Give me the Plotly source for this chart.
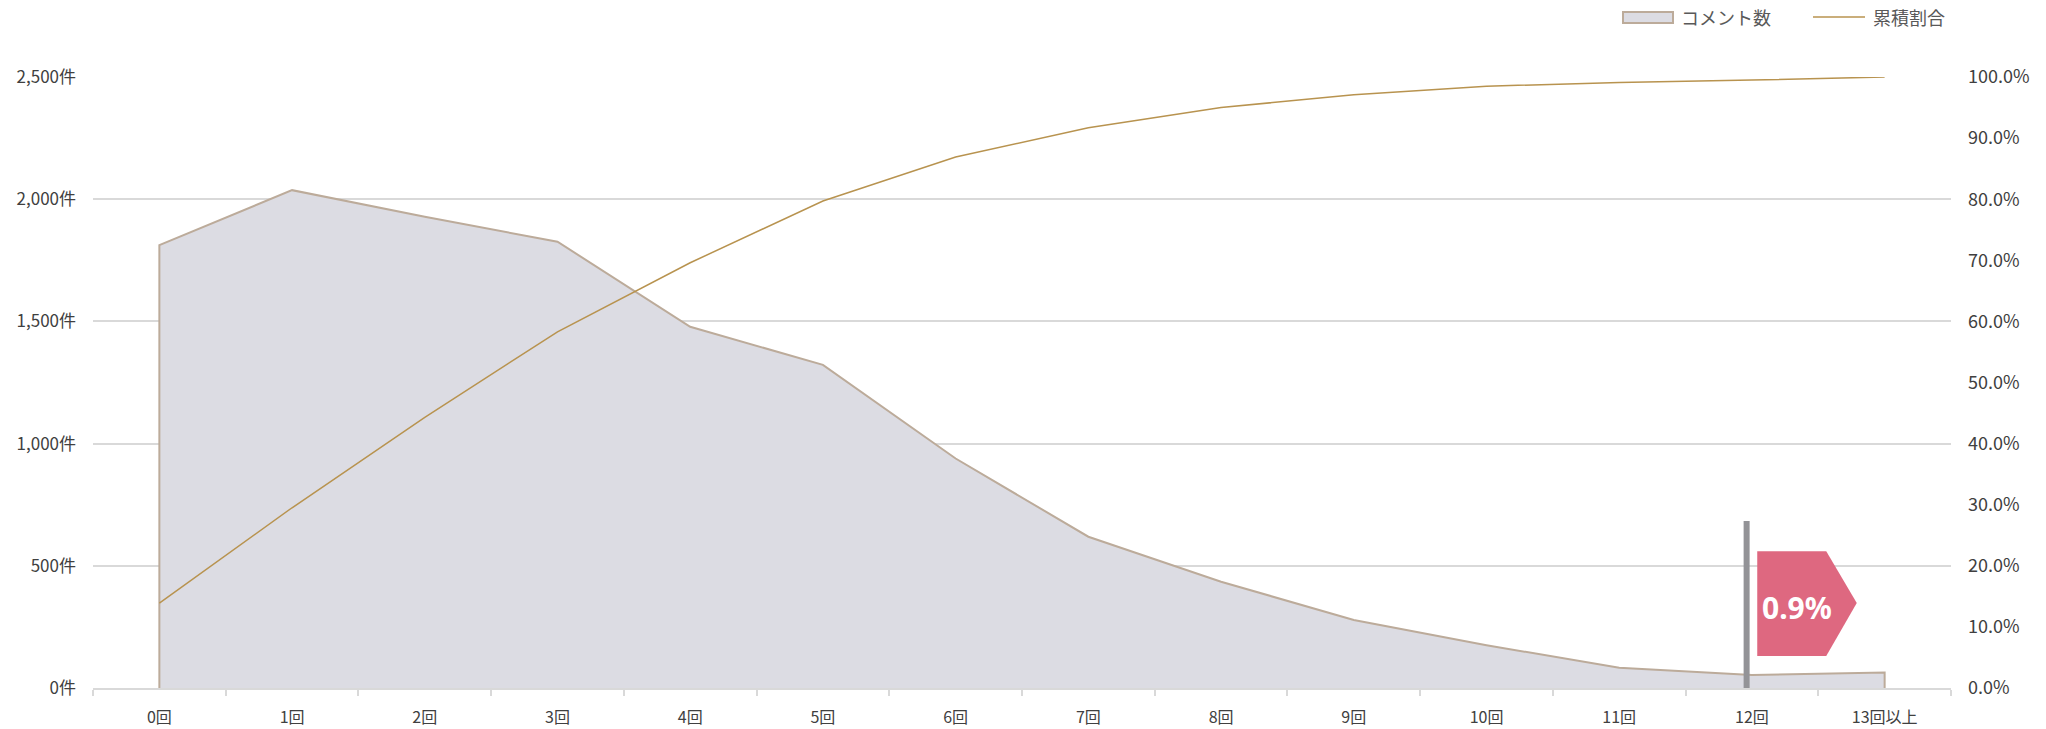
import plotly.graph_objects as go

# Data
categories = ["0回", "1回", "2回", "3回", "4回", "5回", "6回", "7回", "8回", "9回",
              "10回", "11回", "12回", "13回以上"]
comment_counts = [1812, 2037, 1928, 1826, 1478, 1322, 939, 619, 435, 278, 175, 83, 53, 63]
cumulative_share = [0.139, 0.295, 0.443, 0.583, 0.696, 0.797, 0.869, 0.917, 0.950,
                    0.971, 0.985, 0.991, 0.995, 1.000]
left_ticks = [0, 500, 1000, 1500, 2000, 2500]
right_ticks = [0, 0.1, 0.2, 0.3, 0.4, 0.5, 0.6, 0.7, 0.8, 0.9, 1.0]
series_names = ["コメント数", "累積割合"]
highlight_label = "0.9%"
highlight_index = 12

FONT = "Noto Sans CJK JP, Noto Sans, sans-serif"
TEXT = "#404040"
LEGEND_TEXT = "#595959"
GRID = "#d9d9d9"
AREA_FILL = "#dcdce3"
AREA_LINE = "#bcab9a"
CUM_LINE = "#b8934f"
FLAG = "#de6880"
POLE = "#939397"

W, H = 2046, 729
ML, MR, MT, MB = 93, 95, 77, 41
PW, PH = W - ML - MR, H - MT - MB


def px_x(px):
    """Horizontal pixel position -> paper fraction."""
    return (px - ML) / PW


def px_y(py):
    """Vertical pixel position (from top) -> paper fraction."""
    return (H - MB - py) / PH


idx = list(range(len(categories)))

fig = go.Figure()

# Area polygon, closed down to the baseline at both ends
area_x = [idx[0]] + idx + [idx[-1]]
area_y = [0] + comment_counts + [0]
fig.add_trace(go.Scatter(
    x=area_x, y=area_y, name=series_names[0], mode="lines",
    fill="toself", fillcolor=AREA_FILL,
    line=dict(color=AREA_LINE, width=2),
    hoverinfo="skip", showlegend=False,
))

fig.add_trace(go.Scatter(
    x=idx, y=cumulative_share, name=series_names[1], mode="lines",
    line=dict(color=CUM_LINE, width=1.5),
    yaxis="y2", showlegend=False,
))

# Marker pole and pentagon flag
fig.add_shape(type="line", xref="x", yref="y",
              x0=highlight_index - 0.04, x1=highlight_index - 0.04,
              y0=0, y1=683, line=dict(color=POLE, width=6), layer="above")
flag_path = "M {a},{b} L {c},{b} L {d},{m} L {c},{t} L {a},{t} Z".format(
    a=highlight_index + 0.04, c=highlight_index + 0.56, d=highlight_index + 0.79,
    b=131, m=348, t=560)
fig.add_shape(type="path", xref="x", yref="y", path=flag_path,
              fillcolor=FLAG, line=dict(width=0), layer="above")
fig.add_annotation(x=highlight_index + 0.34, y=330, xref="x", yref="y",
                   text="<b>" + highlight_label + "</b>", showarrow=False,
                   font=dict(family="Noto Sans, sans-serif", size=30, color="white"),
                   xanchor="center", yanchor="middle")

# Legend across the top right
fig.add_shape(type="rect", xref="paper", yref="paper",
              x0=px_x(1623), x1=px_x(1673), y0=px_y(23), y1=px_y(12),
              fillcolor=AREA_FILL, line=dict(color=AREA_LINE, width=2))
fig.add_annotation(x=px_x(1679), y=px_y(17), xref="paper", yref="paper",
                   text=series_names[0], showarrow=False, xanchor="left",
                   yanchor="middle",
                   font=dict(family=FONT, size=18, color=LEGEND_TEXT))
fig.add_shape(type="line", xref="paper", yref="paper",
              x0=px_x(1813), x1=px_x(1865), y0=px_y(17), y1=px_y(17),
              line=dict(color=CUM_LINE, width=1.5))
fig.add_annotation(x=px_x(1871), y=px_y(17), xref="paper", yref="paper",
                   text=series_names[1], showarrow=False, xanchor="left",
                   yanchor="middle",
                   font=dict(family=FONT, size=18, color=LEGEND_TEXT))

fig.update_layout(
    width=W, height=H,
    margin=dict(l=ML, r=MR, t=MT, b=MB, autoexpand=False),
    paper_bgcolor="white", plot_bgcolor="white",
    font=dict(family=FONT, size=15, color=TEXT),
    showlegend=False,
    xaxis=dict(
        range=[-0.5, 13.5], tickmode="array", tickvals=idx, ticktext=categories,
        ticks="", showgrid=False, zeroline=False, automargin=False,
        showline=True, linecolor=GRID, linewidth=1.5,
        tickfont=dict(size=16, color=TEXT), ticklabelstandoff=14,
        minor=dict(tick0=-0.5, dtick=1, ticks="outside", ticklen=6,
                   tickcolor=GRID, tickwidth=1.5, showgrid=False),
    ),
    yaxis=dict(
        range=[0, 2500], tickmode="array", tickvals=left_ticks,
        ticktext=[f"{v:,}件" for v in left_ticks], automargin=False,
        showgrid=True, gridcolor=GRID, gridwidth=1.5,
        zeroline=False, showline=False, ticks="",
        tickfont=dict(size=17, color=TEXT), ticklabelstandoff=16,
    ),
    yaxis2=dict(
        range=[0, 1], overlaying="y", side="right", automargin=False,
        tickmode="array", tickvals=right_ticks, tickformat=".1%",
        showgrid=False, zeroline=False, showline=False, ticks="",
        tickfont=dict(size=18, color=TEXT), ticklabelstandoff=16,
    ),
)

fig.write_html("out.html")
